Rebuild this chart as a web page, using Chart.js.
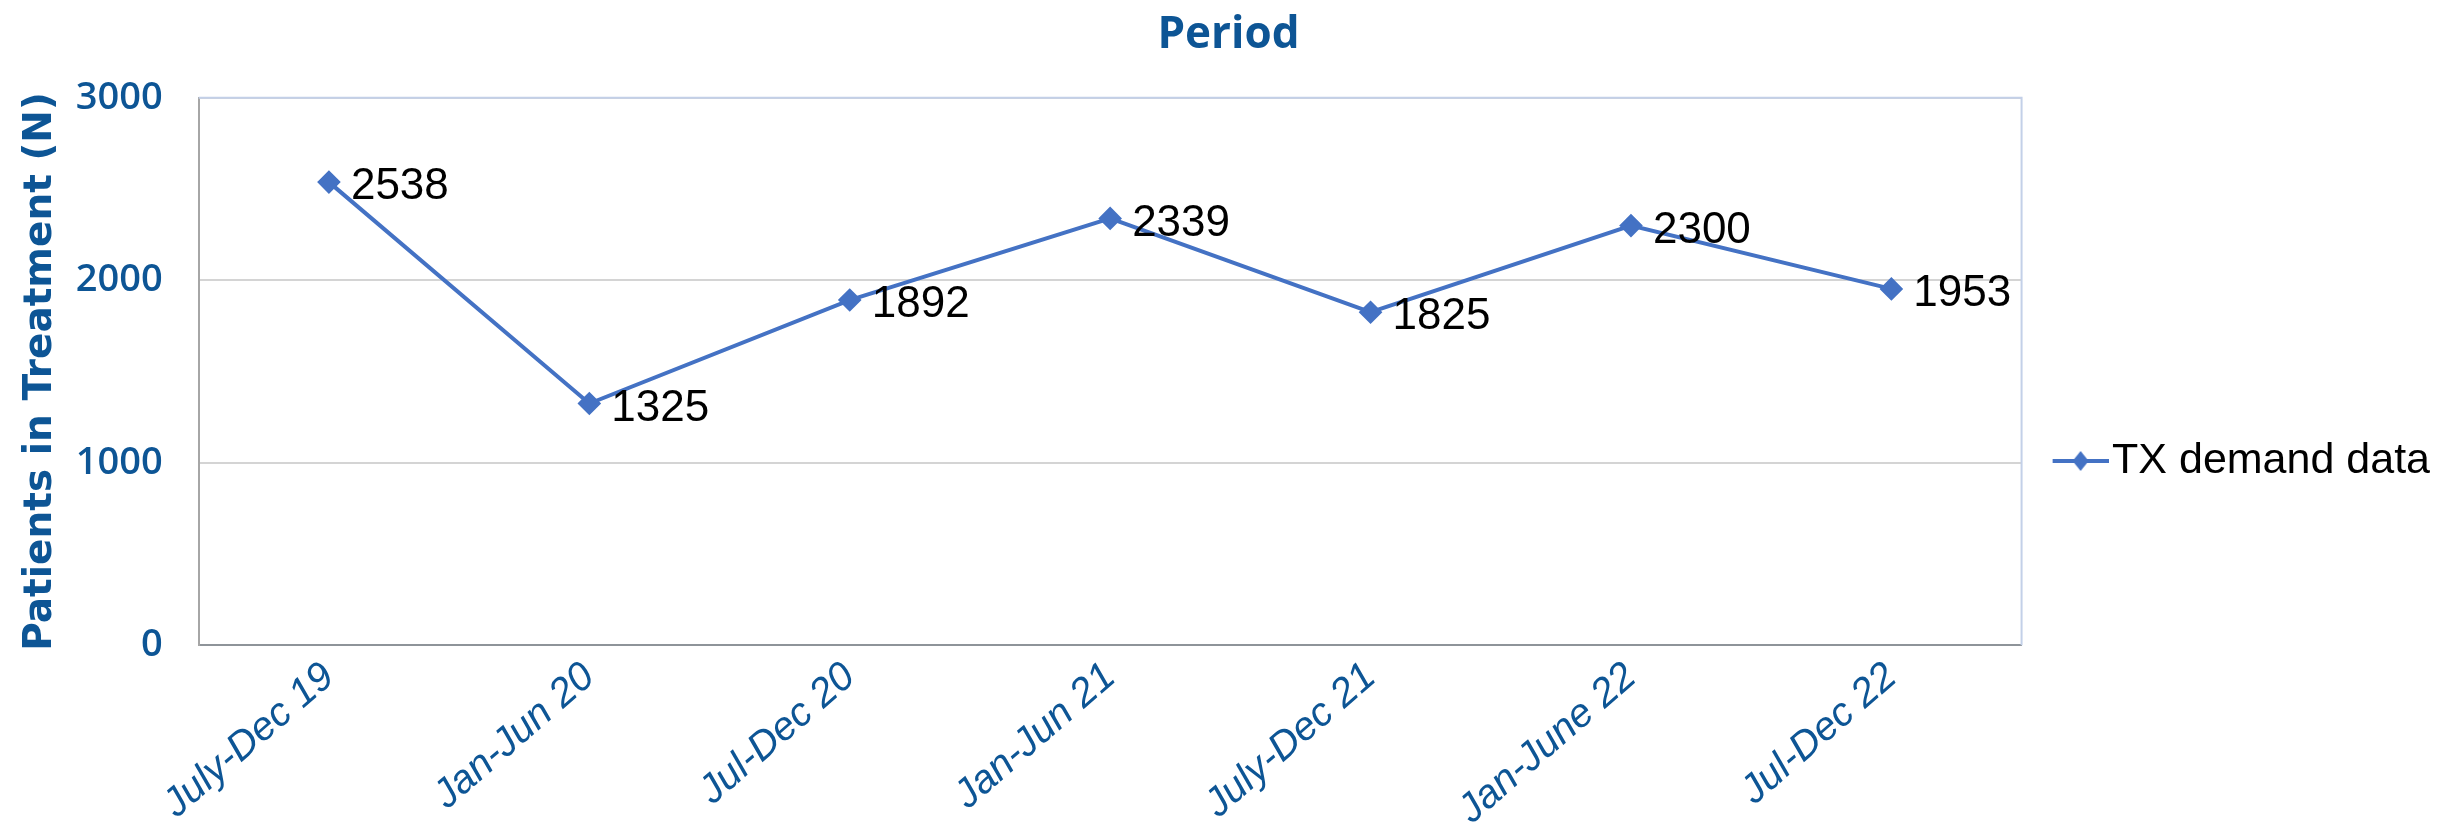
<!DOCTYPE html>
<html>
<head>
<meta charset="utf-8">
<script src="https://cdn.jsdelivr.net/npm/chart.js@4.4.1/dist/chart.umd.min.js"></script>
<style>
  html, body { margin: 0; padding: 0; background: #fff; }
  #wrap { width: 2450px; height: 829px; }
</style>
</head>
<body>
<div id="wrap"><canvas id="line_chart"></canvas></div>
<script>
var line_chart = document.getElementById('line_chart');

// data
const periods = ['July-Dec 19', 'Jan-Jun 20', 'Jul-Dec 20', 'Jan-Jun 21', 'July-Dec 21', 'Jan-June 22', 'Jul-Dec 22'];
const patients = [2538, 1325, 1892, 2339, 1825, 2300, 1953];
const yTicks = [0, 1000, 2000, 3000];

const blueText = '#0d5595';
const lineBlue = '#4472c4';

// legend marker: line with a diamond (transparent space on the left)
var marker = document.createElement('canvas');
marker.width = 95;
marker.height = 22;
var mctx = marker.getContext('2d');
mctx.strokeStyle = lineBlue;
mctx.lineWidth = 4;
mctx.beginPath();
mctx.moveTo(39, 11);
mctx.lineTo(95, 11);
mctx.stroke();
mctx.fillStyle = lineBlue;
mctx.beginPath();
mctx.moveTo(67, 1);
mctx.lineTo(75, 11);
mctx.lineTo(67, 21);
mctx.lineTo(59, 11);
mctx.closePath();
mctx.fill();

// plot border + value labels
const plotFrame = {
  id: 'plotFrame',
  beforeDatasetsDraw(chart) {
    const a = chart.chartArea, ctx = chart.ctx;
    ctx.save();
    ctx.strokeStyle = '#c3d0e8';
    ctx.lineWidth = 2;
    ctx.beginPath();
    ctx.moveTo(a.left, a.top);
    ctx.lineTo(a.right, a.top);
    ctx.lineTo(a.right, a.bottom);
    ctx.stroke();
    ctx.restore();
  },
  afterDatasetsDraw(chart) {
    const ctx = chart.ctx;
    const meta = chart.getDatasetMeta(0);
    ctx.save();
    ctx.font = '44px "Liberation Sans", Arial, sans-serif';
    ctx.fillStyle = '#000';
    ctx.textBaseline = 'middle';
    ctx.textAlign = 'left';
    meta.data.forEach(function (pt, i) {
      ctx.fillText(String(chart.data.datasets[0].data[i]), pt.x + 22, pt.y + 5);
    });
    ctx.restore();
  }
};

var lineChart = new Chart(line_chart, {
  type: 'line',
  data: {
    labels: periods,
    datasets: [{
      label: 'TX demand data',
      data: patients,
      fill: false,
      borderColor: lineBlue,
      backgroundColor: lineBlue,
      borderWidth: 4,
      tension: 0,
      pointStyle: 'rectRot',
      pointRadius: 9,
      pointHoverRadius: 9,
      pointBackgroundColor: lineBlue,
      pointBorderColor: lineBlue
    }]
  },
  options: {
    responsive: true,
    maintainAspectRatio: false,
    animation: false,
    layout: { padding: { left: 17, right: 10, top: 0, bottom: -13 } },
    plugins: {
      title: {
        display: true,
        text: 'Period',
        color: blueText,
        font: { family: '"Open Sans", sans-serif', size: 44, weight: 'bold' },
        padding: { top: 9, bottom: 36 }
      },
      legend: {
        position: 'right',
        title: { display: true, text: ' ', font: { size: 10 }, padding: { top: 34, bottom: 34 } },
        labels: {
          usePointStyle: true,
          pointStyle: marker,
          pointStyleWidth: 59,
          boxHeight: 22,
          color: '#000',
          font: { family: '"Liberation Sans", Arial, sans-serif', size: 43 },
          padding: 10
        }
      },
      tooltip: { enabled: false }
    },
    scales: {
      x: {
        offset: true,
        grid: { display: false, drawTicks: false },
        border: { display: true, color: '#8e9499', width: 2 },
        ticks: {
          color: blueText,
          minRotation: 41,
          maxRotation: 41,
          padding: 8,
          font: { family: '"Liberation Sans", Arial, sans-serif', size: 40, style: 'italic' }
        }
      },
      y: {
        min: 0,
        max: 3000,
        afterBuildTicks: function (axis) {
          axis.ticks = yTicks.map(function (v) { return { value: v }; });
        },
        grid: { color: '#d4d4d4', lineWidth: 2, drawTicks: false },
        border: { display: true, color: '#a6a6a6', width: 2 },
        ticks: {
          color: blueText,
          padding: 36,
          callback: function (v) { return String(v); },
          font: { family: '"Open Sans", sans-serif', size: 38, weight: '600' }
        },
        title: {
          display: true,
          text: 'Patients in Treatment (N)',
          color: blueText,
          font: { family: '"DejaVu Sans", sans-serif', size: 39, weight: 'bold' },
          padding: { top: 0, bottom: -24 }
        }
      }
    }
  },
  plugins: [plotFrame]
});
</script>
</body>
</html>
